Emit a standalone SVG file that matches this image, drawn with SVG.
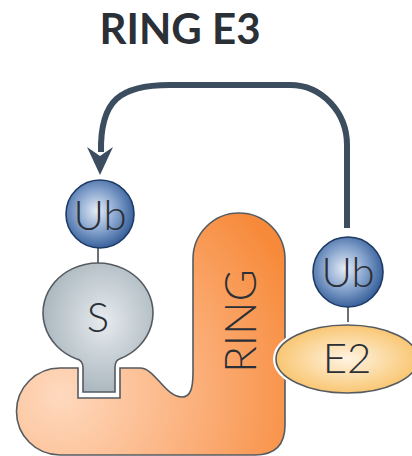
<svg xmlns="http://www.w3.org/2000/svg" width="412" height="456" viewBox="0 0 412 456">
<style>
.lbl{font-family:Lato,"Open Sans","Liberation Sans",sans-serif;font-weight:300;fill:#2b2f36;text-anchor:middle}
.title{font-family:Lato,"Open Sans","Liberation Sans",sans-serif;font-weight:700;fill:#2b2f36;text-anchor:middle}
.outline{stroke:#555b60;stroke-width:1.6}
.link{stroke:#6a6f74;stroke-width:2}
</style>
<defs>
<radialGradient id="gOrange" cx="60" cy="395" r="260" gradientUnits="userSpaceOnUse">
<stop offset="0" stop-color="#fed9be"/>
<stop offset="0.55" stop-color="#fbae78"/>
<stop offset="1" stop-color="#f78a3a"/>
</radialGradient>
<radialGradient id="gBlue" cx="0.45" cy="0.45" r="0.6">
<stop offset="0" stop-color="#e4ecf6"/>
<stop offset="0.55" stop-color="#7d9cc8"/>
<stop offset="1" stop-color="#2b5592"/>
</radialGradient>
<radialGradient id="gGray" cx="0.55" cy="0.45" r="0.6">
<stop offset="0" stop-color="#e6ebee"/>
<stop offset="1" stop-color="#a6b3bb"/>
</radialGradient>
<radialGradient id="gYellow" cx="0.5" cy="0.5" r="0.55">
<stop offset="0" stop-color="#fff4e2"/>
<stop offset="1" stop-color="#f8c268"/>
</radialGradient>
</defs>

<text class="title" x="180" y="44" font-size="42">RING E3</text>

<g id="connectors">
<path d="M347 228 L347 145 A57 60 0 0 0 290 85 L170 85 C120 85 100 100 101 152" fill="none" stroke="#3b4d5e" stroke-width="6"/>
<polygon points="100,175 87,147 100,156 113,147" fill="#3b4d5e"/>
<line class="link" x1="98" y1="248" x2="98" y2="266"/>
<line class="link" x1="348" y1="307" x2="348" y2="326"/>
</g>

<g id="ring">
<path class="outline" fill="url(#gOrange)" d="M193 259 A46 46 0 0 1 285 259 L285 425 Q285 455 255 455 L60 455 A43.5 43.5 0 0 1 60 368 L78 368 L78 398 L120 398 L120 368 L140 368 C155 368 165 397 182 397 C191 397 193 387 193 372 Z"/>
<text class="lbl" font-size="44" transform="translate(256,321) rotate(-90)">RING</text>
</g>

<g id="s">
<path class="outline" fill="url(#gGray)" d="M83 392 L83 368 Q83 360 76 358.8 A55 50 0 1 1 120 358.8 Q115 360 115 368 L115 392 Z"/>
<text class="lbl" x="98" y="332" font-size="42">S</text>
</g>

<g id="e2">
<ellipse cx="347" cy="359" rx="71" ry="34" fill="none" stroke="#ffffff" stroke-width="6"/>
<ellipse class="outline" cx="347" cy="359" rx="71" ry="34" fill="url(#gYellow)"/>
<text class="lbl" x="347" y="373" font-size="42">E2</text>
</g>

<g id="ub1">
<circle cx="100" cy="214" r="34" fill="url(#gBlue)" stroke="#1e3a66" stroke-width="1.6"/>
<text class="lbl" x="100" y="230" font-size="42">Ub</text>
</g>

<g id="ub2">
<circle cx="348" cy="272" r="35" fill="url(#gBlue)" stroke="#1e3a66" stroke-width="1.6"/>
<text class="lbl" x="348" y="287" font-size="42">Ub</text>
</g>
</svg>
